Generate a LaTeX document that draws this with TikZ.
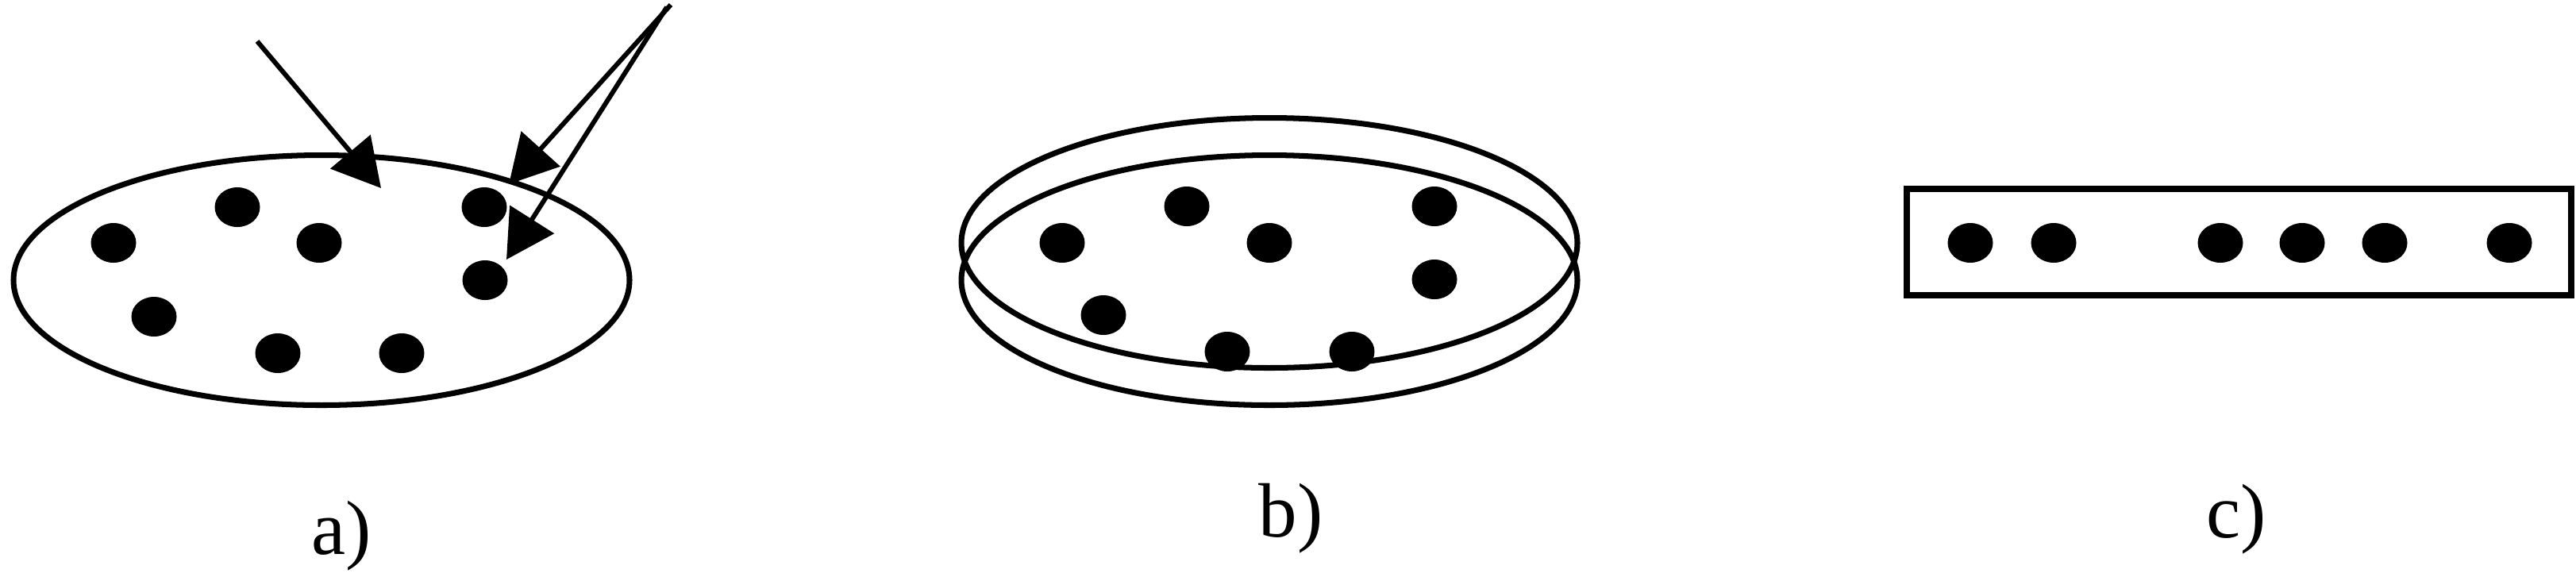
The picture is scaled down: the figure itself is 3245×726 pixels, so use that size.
\documentclass[tikz,border=0pt]{standalone}
\usepackage{fontspec}
\setmainfont{Liberation Serif}
\usetikzlibrary{shapes.geometric, arrows.meta}
\tikzset{
x=0.1mm, y=-0.1mm, % one unit is one pixel of the scan, y going down
>={Triangle[length=6mm, width=6.5mm]}, % big filled arrow heads
dish/.style={ellipse, draw, line width=2pt, minimum width=77.6mm, minimum height=31.5mm, inner sep=0pt}, % the plate seen from above
colony/.style={ellipse, fill, minimum width=5.7mm, minimum height=5mm, inner sep=0pt}, % one black spot
probe/.style={->, line width=1.7pt}, % arrows coming in from outside
strip/.style={draw, line width=2.3pt, minimum width=83.7mm, minimum height=13.4mm, inner sep=0pt}, % the flat strip of c)
caption/.style={font=\fontsize{27.6}{30}\selectfont, anchor=base}, % a), b), c)
}

\begin{document}
\begin{tikzpicture}
\useasboundingbox (0,0) rectangle (3245,726);

% a) plate with spots and three arrows
\node[dish] (plateA) at (405,353) {};
\node[colony] (a1) at (143,306) {};
\node[colony] (a2) at (299,261) {};
\node[colony] (a3) at (402,306) {};
\node[colony] (a4) at (610,261) {};
\node[colony] (a5) at (611,353) {};
\node[colony] (a6) at (194,399) {};
\node[colony] (a7) at (350,445) {};
\node[colony] (a8) at (506,445) {};
\coordinate (src1) at (324,52);
\coordinate (src2) at (845,6);
\coordinate (src3) at (840,9);
\coordinate (hit1) at (480,237);
\coordinate (hit2) at (641,232);
\coordinate (hit3) at (638,327);
\draw[probe] (src1) -- (hit1);
\draw[probe] (src2) -- (hit2);
\draw[probe] (src3) -- (hit3);

% b) same plate with its lid
\node[dish] (lidB) at (1599,306) {};
\node[dish] (plateB) at (1599,353) {};
\node[colony] (b1) at (1338,306) {};
\node[colony] (b2) at (1495,260) {};
\node[colony] (b3) at (1599,306) {};
\node[colony] (b4) at (1807,260) {};
\node[colony] (b5) at (1807,352) {};
\node[colony] (b6) at (1390,397) {};
\node[colony] (b7) at (1546,443) {};
\node[colony] (b8) at (1703,443) {};

% c) spots in a row
\node[strip] (stripC) at (2820,305) {};
\node[colony] (c1) at (2482,306) {};
\node[colony] (c2) at (2587,306) {};
\node[colony] (c3) at (2797,306) {};
\node[colony] (c4) at (2900,306) {};
\node[colony] (c5) at (3004,306) {};
\node[colony] (c6) at (3161,306) {};

\node[caption] (capA) at (430,698) {a)};
\node[caption] (capB) at (1626,676) {b)};
\node[caption] (capC) at (2817,677) {c)};
\end{tikzpicture}
\end{document}
